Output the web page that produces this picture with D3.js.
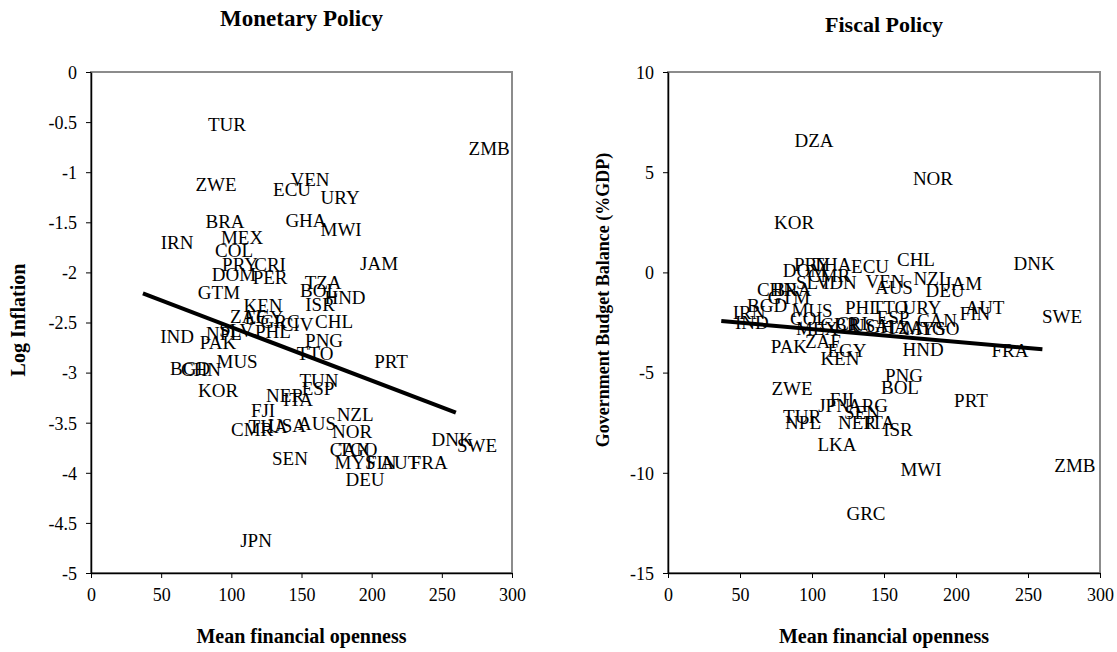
<!DOCTYPE html>
<html>
<head>
<meta charset="utf-8">
<script src="https://cdn.jsdelivr.net/npm/d3@7"></script>
<style>
  body { margin: 0; background: #fff; }
  svg { display: block; font-family: "Liberation Serif", "Times New Roman", serif; }
</style>
</head>
<body>
<svg id="chart"></svg>
<script>
// Monetary policy panel: country code, mean financial openness, log inflation
const monCodes = ["TUR", "ZMB", "VEN", "ZWE", "ECU", "URY", "BRA", "GHA", "MWI", "MEX",
    "IRN", "COL", "PRY", "CRI", "DOM", "PER", "JAM", "TZA", "BOL", "GTM",
    "HND", "ISR", "KEN", "ZAF", "EGY", "GRC", "CIV", "CHL", "SLV", "NPL",
    "PHL", "IND", "PAK", "PNG", "TTO", "MUS", "PRT", "BGD", "CHN", "TUN",
    "ESP", "KOR", "NER", "ITA", "FJI", "NZL", "AUS", "THA", "USA", "CMR",
    "NOR", "DNK", "SWE", "CAN", "TGO", "SEN", "MYS", "FIN", "AUT", "FRA",
    "DEU", "JPN"];
const monOpenness = [96.9, 283.7, 156.1, 89.1, 143.3, 177.5, 95.5, 153.2, 178.2, 107.6,
    61.3, 101.9, 106.2, 127.6, 101.9, 127.6, 205.3, 165.4, 162.5, 91.2,
    181.0, 163.2, 122.6, 111.9, 123.3, 134.7, 146.8, 173.2, 103.5, 94.8,
    129.7, 61.3, 90.5, 166.1, 159.7, 104.1, 213.8, 70.6, 78.4, 162.5,
    161.8, 90.5, 138.3, 147.5, 122.6, 188.2, 161.1, 126.2, 139.7, 114.8,
    186.0, 257.3, 275.1, 184.5, 190.2, 141.8, 188.2, 206.8, 220.0, 241.0,
    195.3, 117.6];
const monInflation = [-0.52, -0.76, -1.07, -1.12, -1.17, -1.25, -1.49, -1.48, -1.57, -1.65,
    -1.70, -1.78, -1.92, -1.92, -2.02, -2.05, -1.91, -2.10, -2.18, -2.20,
    -2.25, -2.32, -2.33, -2.44, -2.45, -2.49, -2.52, -2.49, -2.58, -2.61,
    -2.59, -2.64, -2.70, -2.68, -2.81, -2.89, -2.89, -2.96, -2.97, -3.08,
    -3.16, -3.18, -3.23, -3.27, -3.38, -3.42, -3.51, -3.54, -3.53, -3.57,
    -3.59, -3.67, -3.73, -3.77, -3.77, -3.86, -3.90, -3.90, -3.90, -3.90,
    -4.07, -4.67];
const monTrendX = [37, 260];
const monTrendY = [-2.21, -3.40];

// Fiscal policy panel: country code, mean financial openness, budget balance (%GDP)
const fisCodes = ["DZA", "NOR", "KOR", "CHL", "DNK", "DOM", "PRY", "THA", "ECU", "CMR",
    "SLV", "IDN", "CHN", "BRA", "GTM", "VEN", "AUS", "NZL", "JAM", "DEU",
    "BGD", "IRN", "IND", "MUS", "COL", "PHL", "TTO", "URY", "AUT", "FIN",
    "ESP", "CAN", "MEX", "GBR", "CRI", "USA", "GHA", "TZA", "MYS", "TGO",
    "PAK", "ZAF", "EGY", "KEN", "HND", "FRA", "SWE", "PNG", "ZWE", "BOL",
    "FJI", "JPN", "ARG", "SEN", "TUR", "NPL", "NER", "ITA", "ISR", "LKA",
    "MWI", "PRT", "ZMB", "GRC"];
const fisOpenness = [101.4, 184.0, 87.5, 172.2, 254.2, 95.1, 100.0, 113.9, 140.3, 111.8,
    100.7, 119.4, 75.7, 86.1, 84.0, 150.7, 156.9, 183.3, 204.9, 192.4,
    68.8, 56.3, 58.3, 100.0, 97.9, 135.4, 154.2, 176.4, 220.1, 213.2,
    156.3, 186.8, 103.5, 119.4, 127.8, 140.3, 152.1, 164.6, 178.5, 188.9,
    84.0, 107.6, 124.3, 119.4, 177.1, 237.5, 273.6, 163.9, 86.1, 161.1,
    120.8, 115.3, 138.9, 134.7, 93.1, 93.8, 131.3, 147.2, 159.7, 117.4,
    175.7, 210.4, 282.6, 137.5];
const fisBalance = [6.61, 4.71, 2.51, 0.67, 0.47, 0.12, 0.42, 0.42, 0.32, -0.13,
    -0.48, -0.48, -0.83, -0.83, -1.23, -0.43, -0.73, -0.28, -0.53, -0.88,
    -1.63, -1.98, -2.48, -1.88, -2.28, -1.73, -1.73, -1.73, -1.73, -2.03,
    -2.23, -2.38, -2.77, -2.57, -2.52, -2.62, -2.67, -2.72, -2.77, -2.77,
    -3.67, -3.42, -3.87, -4.27, -3.82, -3.87, -2.18, -5.12, -5.77, -5.72,
    -6.32, -6.62, -6.62, -6.97, -7.17, -7.47, -7.47, -7.47, -7.81, -8.56,
    -9.81, -6.37, -9.61, -12.0];
const fisTrendX = [37, 260];
const fisTrendY = [-2.43, -3.84];

const monTicks = [0, -0.5, -1, -1.5, -2, -2.5, -3, -3.5, -4, -4.5, -5];
const fisTicks = [10, 5, 0, -5, -10, -15];
const xTicks = [0, 50, 100, 150, 200, 250, 300];

const width = 1117;
const height = 652;

const svg = d3.select('#chart')
    .attr('width', width)
    .attr('height', height);

function drawPanel(opts) {
    const x = d3.scaleLinear().domain([0, 300]).range([opts.left, opts.right]);
    const y = d3.scaleLinear().domain(opts.yDomain).range([573, 72]);

    const g = svg.append('g');

    // plot area frame (gray)
    g.append('rect')
        .attr('x', opts.left)
        .attr('y', 72)
        .attr('width', opts.right - opts.left)
        .attr('height', 573 - 72)
        .attr('fill', 'none')
        .attr('stroke', '#8c8c8c')
        .attr('stroke-width', 2);

    // axes
    const yAxis = g.append('g')
        .attr('transform', `translate(${opts.left},0)`)
        .call(d3.axisLeft(y).tickValues(opts.yTicks).tickSize(5).tickSizeOuter(0)
            .tickFormat(d => String(d)));
    const xAxis = g.append('g')
        .attr('transform', `translate(0,573)`)
        .call(d3.axisBottom(x).tickValues(xTicks).tickSize(5).tickSizeOuter(0)
            .tickFormat(d => String(d)));

    [yAxis, xAxis].forEach(ax => {
        ax.select('.domain').attr('stroke', '#000').attr('stroke-width', 1.5);
        ax.selectAll('.tick line').attr('stroke', '#000').attr('stroke-width', 1);
        ax.selectAll('.tick text')
            .attr('font-family', '"Liberation Serif", serif')
            .attr('font-size', 18)
            .attr('fill', '#000');
    });
    yAxis.selectAll('.tick text').attr('x', -14).attr('dy', '0.35em');
    xAxis.selectAll('.tick text').attr('y', 22).attr('dy', '0.35em');

    // country labels
    g.append('g')
        .selectAll('text')
        .data(opts.codes)
        .enter()
        .append('text')
        .attr('x', (d, i) => x(opts.xs[i]))
        .attr('y', (d, i) => y(opts.ys[i]))
        .attr('text-anchor', 'middle')
        .attr('dy', '0.35em')
        .attr('font-size', 19)
        .attr('fill', '#000')
        .text(d => d);

    // fitted line
    g.append('line')
        .attr('x1', x(opts.trendX[0]))
        .attr('y1', y(opts.trendY[0]))
        .attr('x2', x(opts.trendX[1]))
        .attr('y2', y(opts.trendY[1]))
        .attr('stroke', '#000')
        .attr('stroke-width', 4);

    // titles
    g.append('text')
        .attr('x', (opts.left + opts.right) / 2)
        .attr('y', opts.titleY)
        .attr('text-anchor', 'middle')
        .attr('font-weight', 'bold')
        .attr('font-size', opts.titleSize)
        .text(opts.title);

    g.append('text')
        .attr('x', (opts.left + opts.right) / 2)
        .attr('y', 643)
        .attr('text-anchor', 'middle')
        .attr('font-weight', 'bold')
        .attr('font-size', 20)
        .text('Mean financial openness');

    g.append('text')
        .attr('transform', `translate(${opts.yTitleX},${opts.yTitleY}) rotate(-90)`)
        .attr('text-anchor', 'middle')
        .attr('font-weight', 'bold')
        .attr('font-size', opts.yTitleSize)
        .text(opts.yTitle);
}

drawPanel({
    left: 91, right: 512,
    yDomain: [-5, 0], yTicks: monTicks,
    codes: monCodes, xs: monOpenness, ys: monInflation,
    trendX: monTrendX, trendY: monTrendY,
    title: 'Monetary Policy', titleY: 26, titleSize: 23,
    yTitle: 'Log Inflation', yTitleX: 25, yTitleY: 320, yTitleSize: 20
});

drawPanel({
    left: 668, right: 1100,
    yDomain: [-15, 10], yTicks: fisTicks,
    codes: fisCodes, xs: fisOpenness, ys: fisBalance,
    trendX: fisTrendX, trendY: fisTrendY,
    title: 'Fiscal Policy', titleY: 32, titleSize: 22,
    yTitle: 'Government Budget Balance (%GDP)', yTitleX: 609, yTitleY: 300, yTitleSize: 18
});
</script>
</body>
</html>
